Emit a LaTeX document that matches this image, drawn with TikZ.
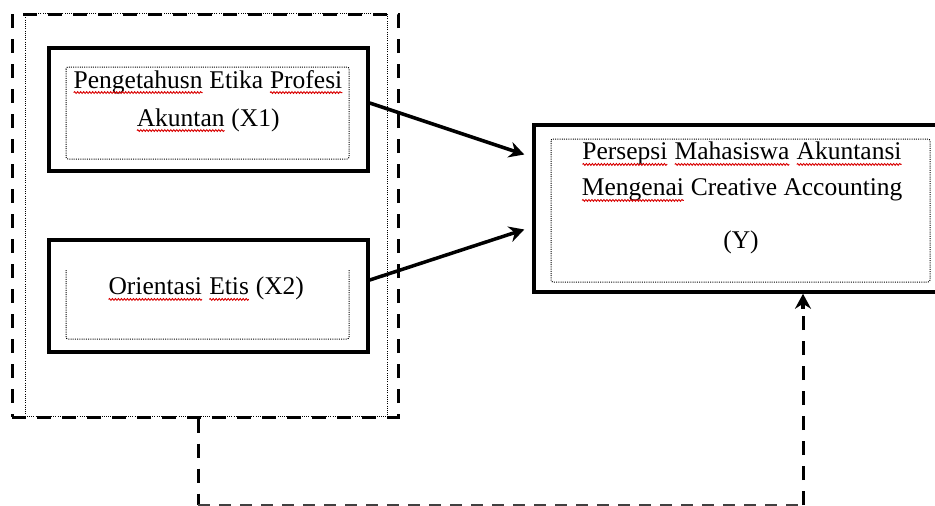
\documentclass[tikz,border=0pt]{standalone}
\usepackage{fontspec}
\setmainfont{Liberation Serif}
\usetikzlibrary{arrows.meta,decorations.pathmorphing}
\newcommand\sq[1]{\tikz[baseline=(w.base),x=1pt,y=1pt]{\node[inner sep=0pt,outer sep=0pt,draw=none] (w) {#1};
  \draw[red!85!black, line width=0.9pt, solid, decorate, decoration={snake,amplitude=0.9pt,segment length=3pt}] ([yshift=-4.5pt]w.base west) -- ([yshift=-4.5pt]w.base east);}}
\tikzset{
  box/.style={draw=black, line width=3.5pt, fill=white, inner sep=0pt},
  dotbox/.style={draw=black, line width=1pt, dash pattern=on 1pt off 1.2pt, rounded corners=2pt},
  groupdash/.style={draw=black, line width=3pt, dash pattern=on 14pt off 11pt, inner sep=0pt},
  lbl/.style={font=\fontsize{25.5}{38}\selectfont, align=center, inner sep=0pt},
  arr/.style={draw=black, line width=3.5pt, -{Stealth[length=15pt,width=16pt,inset=5pt]}},
  fbv/.style={draw=black, line width=3pt, dash pattern=on 14pt off 11pt},
  fbh/.style={draw=black!75, line width=2pt, dash pattern=on 12pt off 9pt},
}
\begin{document}
\begin{tikzpicture}[x=1pt,y=-1pt]
\useasboundingbox (0,0) rectangle (935,506);
% group box
\node[groupdash, minimum width=386pt, minimum height=403pt] (grp) at (205,215.5) {};
\draw[dotbox, rounded corners=0pt] (25,13) rectangle (387,416);
% X1
\node[box, minimum width=319pt, minimum height=123pt] (x1) at (208.5,109.5) {};
\draw[dotbox] (66,67) rectangle (349,159);
\node[lbl] (t1) at (208,101) {\sq{Pengetahusn} Etika \sq{Profesi}\\\sq{Akuntan} (X1)};
% X2
\node[box, minimum width=319pt, minimum height=112pt] (x2) at (208.5,296) {};
\draw[dotbox] (66,270) -- (66,339) -- (349,339) -- (349,270);
\node[lbl] (t2) at (206,289) {\sq{Orientasi} \sq{Etis} (X2)};
% Y
\node[box, minimum width=406pt, minimum height=167pt] (y) at (737,208.5) {};
\draw[dotbox] (551,139) rectangle (930,282);
\node[lbl, font=\fontsize{25.5}{36}\selectfont] (t3) at (742,172) {\sq{Persepsi} \sq{Mahasiswa} \sq{Akuntansi}\\\sq{Mengenai} Creative Accounting};
\node[lbl] (t4) at (741,242) {(Y)};
% arrows
\draw[arr] ([yshift=6.5pt]x1.east) -- ([xshift=-8pt,yshift=54pt]y.west);
\draw[arr] ([yshift=16pt]x2.east) -- ([xshift=-8pt,yshift=-21pt]y.west);
% feedback
\coordinate (c1) at (198,505);
\coordinate (c2) at (803,505);
\draw[fbv] (grp.south -| c1) -- (c1);
\draw[fbh] (c1) -- (c2);
\draw[fbv] (c2) -- ([yshift=-14pt]c2 |- y.south);
\draw[arr, solid] ([yshift=-15pt]c2 |- y.south) -- (c2 |- y.south);
\end{tikzpicture}
\end{document}
